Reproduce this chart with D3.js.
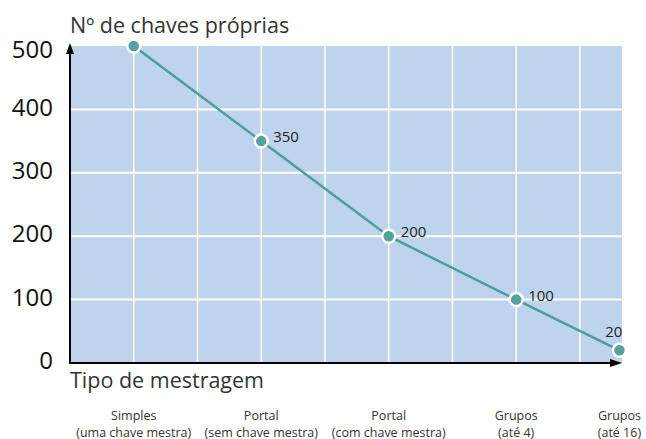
<!DOCTYPE html>
<html>
<head>
<meta charset="utf-8">
<script src="https://cdn.jsdelivr.net/npm/d3@7"></script>
<style>
  body { margin: 0; background: #fff; }
  text { font-family: "Open Sans", "Noto Sans", sans-serif; }
</style>
</head>
<body>
<div id="chart-area"></div>
<script>
// chart data
const tipos = ["Simples", "Portal", "Portal", "Grupos", "Grupos"]
const tiposSub = ["(uma chave mestra)", "(sem chave mestra)", "(com chave mestra)", "(até 4)", "(até 16)"]
const tipoPos = [1, 3, 5, 7, 8.62]          // position along the x axis (grid units)
const chaves = [500, 350, 200, 100, 20]
const yTicks = [0, 100, 200, 300, 400, 500]
const xGrid = [1, 2, 3, 4, 5, 6, 7, 8]

const W = 646, H = 439
const MARGIN = {LEFT: 70, RIGHT: 24, TOP: 46, BOTTOM: 76}

const svg = d3.select("#chart-area").append("svg")
    .attr("width", W)
    .attr("height", H)

const x = d3.scaleLinear().domain([0, 8.66]).range([MARGIN.LEFT, W - MARGIN.RIGHT])
const y = d3.scaleLinear().domain([0, 500]).range([H - MARGIN.BOTTOM, MARGIN.TOP])

// plot background
svg.append("rect")
    .attr("x", x(0))
    .attr("y", y(500))
    .attr("width", x(8.66) - x(0))
    .attr("height", y(0) - y(500))
    .attr("fill", "#bed3ec")

// grid
svg.append("g").selectAll("line.v")
    .data(xGrid)
    .enter().append("line")
    .attr("x1", d => x(d)).attr("x2", d => x(d))
    .attr("y1", y(500)).attr("y2", y(0))
    .attr("stroke", "#fff").attr("stroke-width", 1.5)

svg.append("g").selectAll("line.h")
    .data(yTicks.filter(d => d > 0 && d < 500))
    .enter().append("line")
    .attr("x1", x(0)).attr("x2", x(8.66))
    .attr("y1", d => y(d)).attr("y2", d => y(d))
    .attr("stroke", "#fff").attr("stroke-width", 2)

// y tick labels
const yAxisCall = d3.axisLeft(y).tickValues(yTicks).tickSize(0).tickPadding(17)
const yAxis = svg.append("g")
    .attr("transform", `translate(${x(0)}, 0)`)
    .call(yAxisCall)
yAxis.select(".domain").remove()
yAxis.selectAll("text")
    .attr("font-size", "24px")
    .attr("fill", "#111")
    .attr("dy", "0.36em")
    .attr("transform", d => d === 500 ? "translate(0,2.5)" : "translate(0,-3)")
    .style("font-family", "'Open Sans', 'Noto Sans', sans-serif")

// axis lines with arrows
svg.append("line")
    .attr("x1", x(0)).attr("x2", x(0))
    .attr("y1", y(0) + 1).attr("y2", y(500) + 2)
    .attr("stroke", "#000").attr("stroke-width", 2)
svg.append("path")
    .attr("d", `M${x(0)},${y(500) - 3} l-4,11 l8,0 z`)
    .attr("fill", "#000")

svg.append("line")
    .attr("x1", x(0) - 1).attr("x2", x(8.66) - 4)
    .attr("y1", y(0)).attr("y2", y(0))
    .attr("stroke", "#000").attr("stroke-width", 2)
svg.append("path")
    .attr("d", `M${x(8.66)},${y(0)} l-12,-4 l0,8 z`)
    .attr("fill", "#000")

// titles
svg.append("text")
    .attr("x", x(0))
    .attr("y", 33)
    .attr("font-size", "21.5px")
    .attr("fill", "#333")
    .text("Nº de chaves próprias")

svg.append("text")
    .attr("x", x(0))
    .attr("y", 388)
    .attr("font-size", "21.5px")
    .attr("fill", "#333")
    .text("Tipo de mestragem")

// category labels, two lines each
svg.append("g").selectAll("text.cat")
    .data(tipos)
    .enter().append("text")
    .attr("class", "cat")
    .attr("x", (d, i) => x(tipoPos[i]))
    .attr("y", 420)
    .attr("text-anchor", "middle")
    .attr("font-size", "12.5px")
    .attr("fill", "#333")
    .text(d => d)

svg.append("g").selectAll("text.sub")
    .data(tiposSub)
    .enter().append("text")
    .attr("class", "sub")
    .attr("x", (d, i) => x(tipoPos[i]))
    .attr("y", 436.5)
    .attr("text-anchor", "middle")
    .attr("font-size", "12.5px")
    .attr("fill", "#333")
    .text(d => d)

// line + points
const pts = chaves.map((v, i) => [tipoPos[i], v])
svg.append("path")
    .datum(pts)
    .attr("d", d3.line().x(d => x(d[0])).y(d => y(d[1])))
    .attr("fill", "none")
    .attr("stroke", "#4f9c9c")
    .attr("stroke-width", 2.5)

svg.append("g").selectAll("circle")
    .data(pts)
    .enter().append("circle")
    .attr("cx", d => x(d[0]))
    .attr("cy", d => y(d[1]))
    .attr("r", 6.5)
    .attr("fill", "#56a0a0")
    .attr("stroke", "#fff")
    .attr("stroke-width", 2.5)

// value labels (first point has none)
svg.append("g").selectAll("text.val")
    .data(pts.slice(1))
    .enter().append("text")
    .attr("class", "val")
    .attr("x", (d, i) => i === 3 ? x(d[0]) + 3 : x(d[0]) + 12)
    .attr("y", (d, i) => i === 3 ? y(d[1]) - 13 : y(d[1]) + 1)
    .attr("text-anchor", (d, i) => i === 3 ? "end" : "start")
    .attr("font-size", "15px")
    .attr("fill", "#222")
    .text(d => d[1])
</script>
</body>
</html>
